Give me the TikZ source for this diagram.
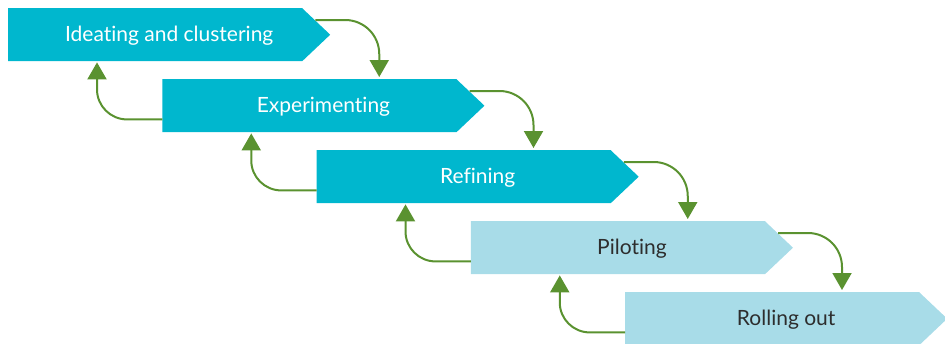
\documentclass[tikz,border=0pt]{standalone}
\usepackage{fontspec}
\setmainfont{Lato}[Ligatures=NoCommon]
\usetikzlibrary{arrows.meta}
\definecolor{stageteal}{RGB}{0,183,206}
\definecolor{stagelight}{RGB}{168,220,232}
\definecolor{flowgreen}{RGB}{90,146,48}
\definecolor{labeldark}{RGB}{45,45,45}
\tikzset{
  stage/.style={anchor=north west, minimum width=322pt, minimum height=53pt, inner sep=0pt,
    font=\fontsize{21}{24}\selectfont, text height=16pt, text depth=2pt,
    path picture={\fill[#1] (path picture bounding box.north west) -- ([xshift=-28pt]path picture bounding box.north east) -- (path picture bounding box.east) -- ([xshift=-28pt]path picture bounding box.south east) -- (path picture bounding box.south west) -- cycle;}},
  flow/.style={draw=flowgreen, line width=2pt, -{Triangle[width=19pt,length=17pt]}}
}
\begin{document}
\begin{tikzpicture}[x=1pt,y=1pt,yscale=-1,xscale=1]
\useasboundingbox (0,0) rectangle (945,343);

% Stage Nodes
\node [stage=stageteal, text=white] (ideate) at (8,8) {Ideating and clustering};
\node [stage=stageteal, text=white] (experiment) at (162.25,79) {Experimenting};
\node [stage=stageteal, text=white] (refine) at (316.5,150) {Refining};
\node [stage=stagelight, text=labeldark] (pilot) at (470.75,221) {Piloting};
\node [stage=stagelight, text=labeldark] (rollout) at (625,292) {Rolling out};

% Forward Arrows
\draw [flow, rounded corners=34pt] ([xshift=-15pt,yshift=12pt]ideate.north east) -| ([xshift=217pt,yshift=-2pt]experiment.north west);
\draw [flow, rounded corners=34pt] ([xshift=-15pt,yshift=12pt]experiment.north east) -| ([xshift=217pt,yshift=-2pt]refine.north west);
\draw [flow, rounded corners=34pt] ([xshift=-15pt,yshift=12pt]refine.north east) -| ([xshift=217pt,yshift=-2pt]pilot.north west);
\draw [flow, rounded corners=34pt] ([xshift=-15pt,yshift=12pt]pilot.north east) -| ([xshift=217pt,yshift=-2pt]rollout.north west);

% Back Arrows
\draw [flow, rounded corners=30pt] ([yshift=-13pt]experiment.south west) -| ([xshift=89pt,yshift=1pt]ideate.south west);
\draw [flow, rounded corners=30pt] ([yshift=-13pt]refine.south west) -| ([xshift=89pt,yshift=1pt]experiment.south west);
\draw [flow, rounded corners=30pt] ([yshift=-13pt]pilot.south west) -| ([xshift=89pt,yshift=1pt]refine.south west);
\draw [flow, rounded corners=30pt] ([yshift=-13pt]rollout.south west) -| ([xshift=89pt,yshift=1pt]pilot.south west);

\end{tikzpicture}
\end{document}
